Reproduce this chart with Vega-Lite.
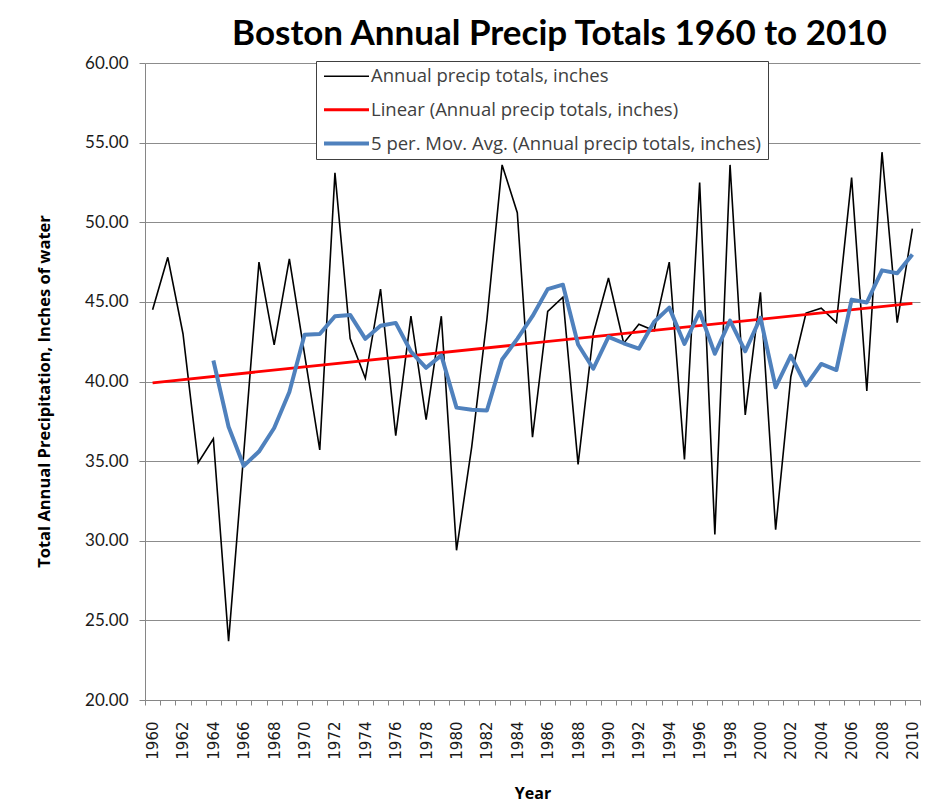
{
  "$schema": "https://vega.github.io/schema/vega-lite/v6.json",
  "width": 775,
  "height": 637,
  "autosize": "none",
  "padding": {"left": 145, "top": 63, "right": 12, "bottom": 111},
  "background": "white",
  "config": {"view": {"stroke": null}, "font": "Lato", "axis": {"labelOverlap": false}, "axisX": {"labelOverlap": false}},
  "title": {"text": "Boston Annual Precip Totals 1960 to 2010", "fontSize": 35, "fontWeight": "bold", "font": "Lato", "color": "#000000", "anchor": "middle", "dx": 27, "offset": 2},
  "datasets": {
    "precip": [
      {"year": 1960, "precip": 44.5, "ma": null},
      {"year": 1961, "precip": 47.8, "ma": null},
      {"year": 1962, "precip": 43.0, "ma": null},
      {"year": 1963, "precip": 34.9, "ma": null},
      {"year": 1964, "precip": 36.4, "ma": 41.32},
      {"year": 1965, "precip": 23.7, "ma": 37.16},
      {"year": 1966, "precip": 35.5, "ma": 34.70},
      {"year": 1967, "precip": 47.5, "ma": 35.60},
      {"year": 1968, "precip": 42.3, "ma": 37.08},
      {"year": 1969, "precip": 47.7, "ma": 39.34},
      {"year": 1970, "precip": 41.7, "ma": 42.94},
      {"year": 1971, "precip": 35.7, "ma": 42.98},
      {"year": 1972, "precip": 53.1, "ma": 44.10},
      {"year": 1973, "precip": 42.7, "ma": 44.18},
      {"year": 1974, "precip": 40.2, "ma": 42.68},
      {"year": 1975, "precip": 45.8, "ma": 43.50},
      {"year": 1976, "precip": 36.6, "ma": 43.68},
      {"year": 1977, "precip": 44.1, "ma": 41.88},
      {"year": 1978, "precip": 37.6, "ma": 40.86},
      {"year": 1979, "precip": 44.1, "ma": 41.64},
      {"year": 1980, "precip": 29.4, "ma": 38.36},
      {"year": 1981, "precip": 35.9, "ma": 38.22},
      {"year": 1982, "precip": 43.9, "ma": 38.18},
      {"year": 1983, "precip": 53.6, "ma": 41.38},
      {"year": 1984, "precip": 50.6, "ma": 42.68},
      {"year": 1985, "precip": 36.5, "ma": 44.10},
      {"year": 1986, "precip": 44.4, "ma": 45.80},
      {"year": 1987, "precip": 45.3, "ma": 46.08},
      {"year": 1988, "precip": 34.8, "ma": 42.32},
      {"year": 1989, "precip": 43.0, "ma": 40.80},
      {"year": 1990, "precip": 46.5, "ma": 42.80},
      {"year": 1991, "precip": 42.4, "ma": 42.40},
      {"year": 1992, "precip": 43.6, "ma": 42.06},
      {"year": 1993, "precip": 43.2, "ma": 43.74},
      {"year": 1994, "precip": 47.5, "ma": 44.64},
      {"year": 1995, "precip": 35.1, "ma": 42.36},
      {"year": 1996, "precip": 52.5, "ma": 44.38},
      {"year": 1997, "precip": 30.4, "ma": 41.74},
      {"year": 1998, "precip": 53.6, "ma": 43.82},
      {"year": 1999, "precip": 37.9, "ma": 41.90},
      {"year": 2000, "precip": 45.6, "ma": 44.00},
      {"year": 2001, "precip": 30.7, "ma": 39.64},
      {"year": 2002, "precip": 40.3, "ma": 41.62},
      {"year": 2003, "precip": 44.3, "ma": 39.76},
      {"year": 2004, "precip": 44.6, "ma": 41.10},
      {"year": 2005, "precip": 43.7, "ma": 40.72},
      {"year": 2006, "precip": 52.8, "ma": 45.14},
      {"year": 2007, "precip": 39.4, "ma": 44.96},
      {"year": 2008, "precip": 54.4, "ma": 46.98},
      {"year": 2009, "precip": 43.7, "ma": 46.80},
      {"year": 2010, "precip": 49.6, "ma": 47.98}
    ],
    "trend": [
      {"year": 1960, "trend": 39.92},
      {"year": 2010, "trend": 44.9}
    ]
  },
  "encoding": {
    "x": {
      "field": "year", "type": "quantitative",
      "scale": {"domain": [1959.5, 2010.5], "nice": false, "zero": false},
      "axis": {
        "title": "Year",
        "values": [1959.5,1960.5,1961.5,1962.5,1963.5,1964.5,1965.5,1966.5,1967.5,1968.5,1969.5,1970.5,1971.5,1972.5,1973.5,1974.5,1975.5,1976.5,1977.5,1978.5,1979.5,1980.5,1981.5,1982.5,1983.5,1984.5,1985.5,1986.5,1987.5,1988.5,1989.5,1990.5,1991.5,1992.5,1993.5,1994.5,1995.5,1996.5,1997.5,1998.5,1999.5,2000.5,2001.5,2002.5,2003.5,2004.5,2005.5,2006.5,2007.5,2008.5,2009.5,2010.5],
        "labelExpr": "(datum.value + 0.5) % 2 == 0 ? format(datum.value + 0.5, 'd') : ''",
        "labelOffset": 7.6,
        "labelAngle": -90,
        "labelOverlap": false,
        "labelBound": false,
        "labelFlush": false,
        "labelFont": "DejaVu Sans",
        "labelFontSize": 15,
        "labelColor": "#1a1a1a",
        "labelPadding": 16,
        "tickSize": 5,
        "tickColor": "#868686",
        "domainColor": "#868686",
        "grid": false,
        "titleFont": "Open Sans",
        "titleFontSize": 16,
        "titleFontWeight": "bold",
        "titleColor": "#000000",
        "titlePadding": 26
      }
    }
  },
  "layer": [
    {
      "data": {"name": "precip"},
      "mark": {"type": "line", "strokeJoin": "miter"},
      "encoding": {
        "y": {
          "field": "precip", "type": "quantitative",
          "scale": {"domain": [20, 60], "nice": false, "zero": false},
          "axis": {
            "title": "Total Annual Precipitation, Inches of water",
            "values": [20, 25, 30, 35, 40, 45, 50, 55, 60],
            "format": ".2f",
            "labelFontSize": 17,
            "labelColor": "#1a1a1a",
            "labelPadding": 11,
            "tickSize": 6,
            "tickColor": "#868686",
            "domainColor": "#868686",
            "grid": true,
            "gridColor": "#8c8c8c",
            "gridWidth": 1,
            "titleFont": "Open Sans",
            "titleFontSize": 16.5,
            "titleFontWeight": "bold",
            "titleColor": "#000000",
            "titleX": -93,
            "titleY": 328
          }
        },
        "color": {
          "datum": "Annual precip totals, inches",
          "type": "nominal",
          "scale": {
            "domain": ["Annual precip totals, inches", "Linear (Annual precip totals, inches)", "5 per. Mov. Avg. (Annual precip totals, inches)"],
            "range": ["#000000", "#ff0000", "#4f81bd"]
          },
          "legend": {
            "title": null,
            "orient": "none",
            "legendX": 171,
            "legendY": -2,
            "zindex": 1,
            "direction": "vertical",
            "symbolType": "M-3,0H3",
            "symbolSize": 225,
            "symbolOffset": 15,
            "labelOffset": 15,
            "labelFontSize": 18.5,
            "labelFont": "Open Sans",
            "labelColor": "#404040",
            "labelLimit": 600,
            "rowPadding": 14.5,
            "padding": 6,
            "strokeColor": "#404040",
            "fillColor": "white"
          }
        },
        "strokeWidth": {
          "datum": "Annual precip totals, inches",
          "type": "nominal",
          "scale": {
            "domain": ["Annual precip totals, inches", "Linear (Annual precip totals, inches)", "5 per. Mov. Avg. (Annual precip totals, inches)"],
            "range": [1.6, 4, 5]
          },
          "legend": null
        }
      }
    },
    {
      "data": {"name": "trend"},
      "mark": {"type": "line"},
      "encoding": {
        "y": {"field": "trend", "type": "quantitative"},
        "color": {"datum": "Linear (Annual precip totals, inches)", "type": "nominal"},
        "strokeWidth": {"datum": "Linear (Annual precip totals, inches)", "type": "nominal"}
      }
    },
    {
      "data": {"name": "precip"},
      "mark": {"type": "line", "strokeJoin": "round"},
      "encoding": {
        "y": {"field": "ma", "type": "quantitative"},
        "color": {"datum": "5 per. Mov. Avg. (Annual precip totals, inches)", "type": "nominal"},
        "strokeWidth": {"datum": "5 per. Mov. Avg. (Annual precip totals, inches)", "type": "nominal"}
      }
    }
  ]
}
